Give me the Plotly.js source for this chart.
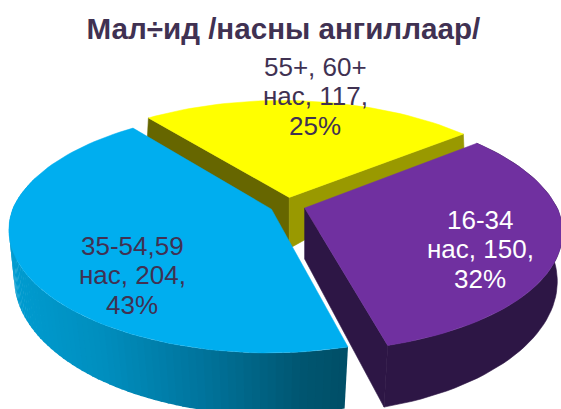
<!DOCTYPE html>
<html><head><meta charset="utf-8">
<script src="https://cdn.plot.ly/plotly-3.0.1.min.js"></script>
<style>html,body{margin:0;padding:0;background:#fff}#c{width:561px;height:409px}</style>
</head><body><div id="c"></div>
<script>
const chartTitle = "Мал÷ид /насны ангиллаар/";
const categories = ["16-34", "35-54,59", "55+, 60+"];
const values = [150, 204, 117];
const percents = ["32%", "43%", "25%"];
const topColors = ["#7030A0", "#00AEEF", "#FFFF00"];
const labelColors = ["#FFFFFF", "#403152", "#403152"];

// pie geometry in pixel-valued axis units
const firstAngle = 50.4, cx = 287.5, cy = 205.5, pull = 18, R = 258, S = 118;
const perspBack = 0.2, perspFront = 0.175, perspSide = 0.017, skew = 2;
const total = values.reduce((a, b) => a + b, 0);
const rad = d => d * Math.PI / 180;
let acc = firstAngle;
const slices = values.map((v, i) => {
  const a0 = acc, a1 = acc + v / total * 360; acc = a1;
  const mid = (a0 + a1) / 2;
  const ox = pull * Math.sin(rad(mid)), oy = -pull * 0.45 * Math.cos(rad(mid));
  return {a0, a1, mid, ox, oy, ax: cx + ox, ay: cy + oy};
});
function topPt(s, ang) {
  const u = Math.sin(rad(ang)), v = Math.cos(rad(ang));
  const w = 1 + (v >= 0 ? perspBack : perspFront) * v + perspSide * Math.max(u, 0);
  return [cx + (s.ox + R * u) / w, cy + (s.oy - S * v) / w + skew * u, v];
}
function depth(v) { return v >= 0 ? 51 - 53 * v : 51 - 11 * v; }
function botPt(s, ang) {
  const [x, y, v] = topPt(s, ang);
  const f = 0.985 + 0.03 * v;
  return [s.ax + f * (x - s.ax), y + depth(v)];
}
function arcPts(s, a0, a1, fn) {
  const n = Math.max(2, Math.ceil(Math.abs(a1 - a0) / 2)), p = [];
  for (let i = 0; i <= n; i++) p.push(fn(s, a0 + (a1 - a0) * i / n));
  return p;
}
const traces = [];
function poly(pts, color, line) {
  const xs = pts.map(p => p[0]), ys = pts.map(p => p[1]);
  xs.push(xs[0]); ys.push(ys[0]);
  traces.push({type: 'scatter', mode: 'lines', x: xs, y: ys, fill: 'toself', fillcolor: color,
    line: {color: color, width: line === undefined ? 0.6 : line}, hoverinfo: 'skip', showlegend: false});
}
function radial(s, ang, color, extra) {
  const t = topPt(s, ang), b = botPt(s, ang);
  poly([[s.ax, s.ay], [t[0], t[1]], [b[0], b[1] + (extra || 0)], [s.ax, s.ay + depth(0)]], color);
}
function face(s, color) {
  poly([[s.ax, s.ay]].concat(arcPts(s, s.a0, s.a1, topPt).map(p => [p[0], p[1]])), color, 0.5);
}
const [pu, bl, ye] = slices;

// yellow slice: two cut walls then the top
radial(ye, ye.a0, "#666600", 12);
radial(ye, ye.a1, "#999900");
face(ye, topColors[2]);

// purple slice
const purpleWall = "#2D1645";
{
  const tp = arcPts(pu, pu.a0, pu.a1, topPt).map(p => [p[0], p[1]]);
  const bt = arcPts(pu, pu.a0, pu.a1, botPt).reverse();
  poly(tp.concat(bt), purpleWall);
  radial(pu, pu.a1, purpleWall);
  face(pu, topColors[0]);
}

// blue slice: shaded rim, dark to light going round from the front
const shadeStops = [[15, [0,155,207]], [100, [0,142,190]], [200, [0,116,156]], [300, [0,86,113]], [350, [0,78,102]]];
function shade(x) {
  for (let i = 1; i < shadeStops.length; i++) {
    if (x <= shadeStops[i][0]) {
      const [x0, c0] = shadeStops[i-1], [x1, c1] = shadeStops[i];
      const t = Math.max(0, (x - x0) / (x1 - x0));
      return 'rgb(' + c0.map((c, k) => Math.round(c + (c1[k] - c) * t)).join(',') + ')';
    }
  }
  return 'rgb(0,78,102)';
}
{
  const step = 1.5;
  for (let a = bl.a0; a < 285; a += step) {
    const e = Math.min(a + step + 0.4, 285);
    const t0 = topPt(bl, a), t1 = topPt(bl, e), b0 = botPt(bl, a), b1 = botPt(bl, e);
    poly([[t0[0], t0[1]], [t1[0], t1[1]], b1, b0], shade((t0[0] + t1[0]) / 2), 0);
  }
  face(bl, topColors[1]);
}

const labelX = [480, 132, 315], labelY = [220, 246, 67], lineGap = 29.3;
const labelFont = size => ({family: '"Liberation Sans", Arial, sans-serif', size: size});
const annotations = [];
categories.forEach((c, i) => {
  [c, "нас, " + values[i] + ",", percents[i]].forEach((txt, k) => {
    annotations.push({
      x: labelX[i], y: labelY[i] + k * lineGap, xref: 'x', yref: 'y', showarrow: false,
      text: txt, yanchor: 'middle', xanchor: 'center',
      font: Object.assign(labelFont(26), {color: labelColors[i]})
    });
  });
});

Plotly.newPlot('c', traces, {
  width: 561, height: 409, margin: {l: 0, r: 0, t: 0, b: 0},
  paper_bgcolor: '#fff', plot_bgcolor: '#fff', showlegend: false,
  title: {text: '<b>' + chartTitle + '</b>', x: 0.505, xanchor: 'center', y: 0.929, yanchor: 'middle',
    font: Object.assign(labelFont(29.6), {color: '#403152'})},
  xaxis: {range: [0, 561], visible: false, fixedrange: true},
  yaxis: {range: [409, 0], visible: false, fixedrange: true},
  annotations: annotations
}, {displayModeBar: false, staticPlot: true});
</script></body></html>
